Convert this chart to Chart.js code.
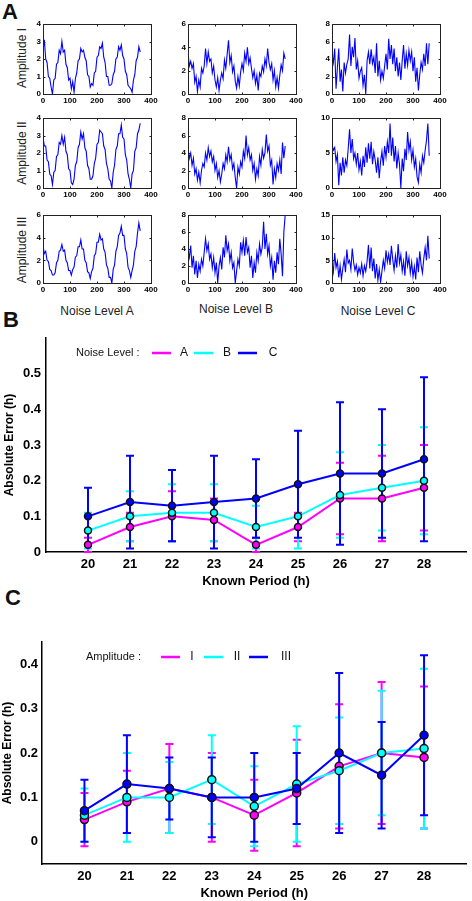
<!DOCTYPE html>
<html>
<head>
<meta charset="utf-8">
<script src="https://cdn.jsdelivr.net/npm/chart.js@4.4.1/dist/chart.umd.min.js"></script>
<style>
body { margin: 0; width: 472px; height: 901px; position: relative; background: #fff; overflow: hidden;
       font-family: "Liberation Sans", Arial, Helvetica, sans-serif; }
canvas { position: absolute; }
.letter { position: absolute; font-size: 22px; line-height: 22px; font-weight: bold; color: #111; }
.col { position: absolute; width: 120px; text-align: center; font-size: 12px; line-height: 12px; color: #222; }
.row { position: absolute; width: 100px; height: 14px; line-height: 14px; text-align: center; font-size: 12px;
       color: #222; transform: rotate(-90deg); }
</style>
</head>
<body>
<div class="letter" style="left:2px;top:1px">A</div>
<div class="letter" style="left:3px;top:309px">B</div>
<div class="letter" style="left:5px;top:587px">C</div>

<div class="row" style="left:-28px;top:51px">Amplitude I</div>
<div class="row" style="left:-28px;top:146px">Amplitude II</div>
<div class="row" style="left:-28px;top:243px">Amplitude III</div>

<div class="col" style="left:37px;top:305px">Noise Level A</div>
<div class="col" style="left:176px;top:303px">Noise Level B</div>
<div class="col" style="left:318px;top:305px">Noise Level C</div>

<script>
// ---- panel A: time series (x = time, h) ----
const timeX = [0,5,10,15,20,25,30,35,40,45,50,55,60,65,70,75,80,85,90,95,100,105,110,115,120,125,130,135,140,145,150,155,160,165,170,175,180,185,190,195,200,205,210,215,220,225,230,235,240,245,250,255,260,265,270,275,280,285,290,295,300,305,310,315,320,325,330,335,340,345,350,355,360];
const timeTicks = [0, 100, 200, 300, 400];

const sigIA = [2.5,3.1,2.0,1.8,1.0,0.9,0.4,0.0,0.8,0.9, 1.7,1.8,2.5,2.3,3.0,2.4,2.5,1.7,1.5,0.8, 0.9,0.3,0.7,0.1,0.9,1.2,1.9,2.0,2.6,2.4, 2.5,2.1,1.9,1.1,1.0,0.4,0.6,0.5,1.2,1.3, 2.1,2.2,2.7,2.6,2.9,2.1,1.8,1.0,1.0,0.5, 0.5,0.6,1.1,1.3,2.0,2.1,2.7,2.5,2.8,2.2, 2.0,1.3,1.1,0.5,0.4,0.3,0.1,0.8,1.1,1.9, 2.1,2.7,2.4];
const sigIB = [3.5,2.4,2.8,2.2,2.6,1.0,1.5,0.2,1.2,0.6, 2.2,1.8,2.4,3.9,2.6,3.6,2.8,3.0,1.8,2.4, 1.2,0.6,1.4,0.3,1.2,1.8,1.3,2.9,2.2,3.4, 4.6,2.7,3.3,1.9,2.4,1.1,0.5,1.5,0.7,1.9, 2.6,2.0,3.5,2.8,4.0,2.6,3.1,2.2,1.4,2.0, 0.9,1.6,0.3,1.8,1.5,2.4,1.9,3.0,2.4,3.9, 2.7,2.1,2.6,1.2,2.0,0.6,1.4,0.5,1.6,2.5, 2.0,3.5,3.0];
const sigIC = [4.5,3.6,5.2,0.6,3.0,5.2,1.4,2.8,0.3,3.6, 2.4,3.4,4.0,6.8,3.2,5.4,4.2,6.4,2.8,3.8, 1.8,2.6,3.0,1.0,2.2,0.0,3.8,4.8,3.4,5.1, 3.5,4.2,2.4,5.8,2.0,3.8,1.6,2.6,1.8,3.2, 4.6,2.8,6.3,4.0,5.6,3.4,5.2,2.6,4.2,2.0, 3.6,1.6,3.8,5.6,2.9,4.6,3.3,5.0,3.8,4.8, 2.6,4.2,1.4,3.0,0.4,2.2,3.6,2.8,4.6,3.2, 5.8,3.4,5.8];
const sigIIA = [2.9,2.4,2.4,1.6,1.5,0.8,0.7,0.2,0.9,1.0, 1.8,1.9,2.6,2.5,3.0,2.5,2.9,2.1,1.9,1.1, 1.0,0.3,0.2,0.5,1.3,1.5,2.3,2.5,3.2,2.8, 3.1,2.3,2.1,1.3,1.1,0.5,0.5,0.7,1.4,1.7, 2.5,2.6,3.3,3.2,3.1,2.4,2.2,1.4,1.1,0.5, 0.4,0.0,0.9,1.3,2.2,2.4,3.1,3.1,3.6,2.9, 2.8,1.9,1.6,0.8,0.5,0.0,0.8,1.0,2.1,2.3, 3.1,3.3,3.7];
const sigIIB = [4.6,3.4,4.0,2.6,3.4,1.6,2.2,0.9,1.8,0.6, 2.0,2.8,2.4,4.0,3.2,4.6,3.6,4.2,3.0,3.6, 2.0,2.8,1.2,2.0,0.7,1.6,2.8,2.2,3.8,3.0, 4.7,3.2,3.8,2.2,2.8,1.2,0.0,2.4,1.6,3.0, 2.4,4.2,3.4,6.0,3.8,4.6,3.2,3.8,2.0,2.8, 1.0,2.2,1.4,3.6,2.6,4.4,3.4,4.0,6.1,4.2, 4.8,2.6,3.2,0.4,2.2,1.2,2.8,2.0,3.2,1.6, 5.2,3.4,4.8];
const sigIIC = [6.2,5.4,5.8,3.8,4.8,0.4,3.6,1.8,4.4,2.2, 4.0,3.2,5.6,8.4,5.0,7.0,4.2,5.0,3.4,5.0, 2.6,3.8,1.8,4.6,3.0,5.8,3.6,6.4,4.2,6.6, 3.4,5.2,4.0,2.2,4.4,1.4,3.8,5.2,3.2,6.0, 4.4,6.6,5.0,9.2,4.6,7.2,3.8,6.0,2.8,5.0, 3.4,0.0,4.2,2.4,5.6,4.0,8.0,5.4,6.6,4.0, 5.4,3.0,4.2,1.6,0.8,3.4,2.2,4.6,3.6,5.4, 6.8,9.2,4.6];
const sigIIIA = [3.3,2.6,2.8,2.0,1.9,1.2,1.1,0.7,0.7,0.9, 1.8,2.0,2.8,2.9,3.4,2.8,2.9,2.0,1.8,1.1, 1.1,0.7,1.2,1.4,2.3,2.4,3.2,3.2,3.8,3.0, 3.0,2.0,1.8,1.0,0.9,0.4,1.0,1.3,2.4,2.6, 3.6,3.6,4.3,3.8,3.9,3.0,2.7,1.6,1.3,0.5, 0.5,0.0,1.2,1.6,2.8,3.2,4.2,4.4,5.0,4.2, 4.2,3.0,2.6,1.4,1.1,0.5,1.1,1.6,2.8,3.2, 4.4,5.3,4.6];
const sigIIIB = [3.8,3.0,4.4,1.8,3.2,1.0,2.6,0.6,2.2,1.4, 2.8,2.0,3.6,5.2,3.8,4.6,2.8,3.4,1.8,3.0, 1.2,2.4,0.0,2.0,3.0,1.6,4.2,3.0,5.6,3.8, 4.6,2.6,3.6,1.8,2.4,0.0,1.4,2.8,2.0,4.8, 3.6,5.0,3.2,5.4,3.6,4.2,1.8,3.2,0.6,2.4, 1.2,3.6,2.6,4.6,3.4,4.2,7.2,4.0,5.8,3.4, 4.4,2.0,3.0,0.4,2.6,1.2,3.6,2.2,5.2,3.4, 0.8,6.0,8.0];
const sigIIIC = [4.2,2.4,6.6,3.4,4.8,1.2,3.8,0.8,3.2,5.2, 2.4,7.4,4.4,5.0,3.0,7.6,4.6,2.8,4.0,1.8, 3.4,2.2,4.2,1.6,3.8,2.6,4.8,8.4,3.2,7.8, 2.6,5.4,1.0,4.2,0.6,3.0,0.2,2.6,5.0,3.2, 7.2,4.6,6.4,4.0,8.2,5.2,2.8,6.0,3.4,8.6, 4.4,6.2,2.6,4.8,1.6,7.0,3.8,5.6,2.2,4.6, 1.4,3.6,0.8,5.6,2.4,7.0,4.0,2.2,5.4,7.8, 5.0,10.4,5.4];

const ticksIA = [0,1,2,3,4], ticksIB = [0,2,4,6], ticksIC = [0,2,4,6,8];
const ticksIIA = [0,1,2,3,4], ticksIIB = [0,2,4,6,8], ticksIIC = [0,5,10];
const ticksIIIA = [0,2,4,6], ticksIIIB = [0,2,4,6,8], ticksIIIC = [0,5,10,15];

// ---- panels B and C: absolute error vs known period ----
const periods = [20,21,22,23,24,25,26,27,28];

const noiseLabels = ['A','B','C'];
const errNoiseA = [0.02,0.07,0.10,0.09,0.02,0.07,0.15,0.15,0.18];
const lowNoiseA = [0,0.03,0.03,0.03,0,0.03,0.05,0.03,0.06];
const highNoiseA = [0.04,0.11,0.17,0.15,0.04,0.11,0.25,0.27,0.30];
const errNoiseB = [0.06,0.10,0.11,0.11,0.07,0.10,0.16,0.18,0.20];
const lowNoiseB = [0.01,0.03,0.03,0.03,0.01,0.01,0.04,0.06,0.05];
const highNoiseB = [0.11,0.17,0.19,0.19,0.13,0.19,0.28,0.30,0.35];
const errNoiseC = [0.10,0.14,0.13,0.14,0.15,0.19,0.22,0.22,0.26];
const lowNoiseC = [0.02,0.01,0.03,0.01,0.04,0.04,0.02,0.04,0.03];
const highNoiseC = [0.18,0.27,0.23,0.27,0.26,0.34,0.42,0.40,0.49];
const yTicksB = [0,0.1,0.2,0.3,0.4,0.5];

const ampLabels = ['I','II','III'];
const errAmpI = [0.05,0.09,0.12,0.10,0.06,0.11,0.17,0.20,0.19];
const lowAmpI = [-0.01,0.02,0.02,0,-0.02,-0.01,0.03,0.04,0.03];
const highAmpI = [0.11,0.16,0.22,0.20,0.14,0.23,0.31,0.36,0.35];
const errAmpII = [0.06,0.10,0.10,0.14,0.08,0.13,0.16,0.20,0.21];
const lowAmpII = [0,0,0.02,0.04,-0.01,0,0.04,0.06,0.03];
const highAmpII = [0.12,0.20,0.18,0.24,0.17,0.26,0.28,0.34,0.39];
const errAmpIII = [0.07,0.13,0.12,0.10,0.10,0.12,0.20,0.15,0.24];
const lowAmpIII = [0,0.02,0.05,0.01,0,0.04,0.02,0.03,0.06];
const highAmpIII = [0.14,0.24,0.19,0.19,0.20,0.20,0.38,0.27,0.42];
const yTicksC = [0,0.1,0.2,0.3,0.4];

const colors = ['#ff00ff', '#00ffff', '#0000ff'];

Chart.defaults.font.family = '"Liberation Sans", Arial, Helvetica, sans-serif';
Chart.defaults.color = '#000';

function addCanvas(left, top, w, h) {
  const c = document.createElement('canvas');
  c.width = w; c.height = h;
  c.style.left = left + 'px'; c.style.top = top + 'px';
  document.body.appendChild(c);
  return c;
}

// box + inward ticks for the small MATLAB-like plots
const framePlugin = {
  id: 'frame',
  afterDatasetsDraw(chart) {
    const { ctx, chartArea: a, scales: { x, y } } = chart;
    const l = Math.round(a.left) + 0.5, t = Math.round(a.top) + 0.5;
    const r = Math.round(a.right) + 0.5, b = Math.round(a.bottom) + 0.5;
    ctx.save();
    ctx.strokeStyle = '#222';
    ctx.lineWidth = 1;
    ctx.strokeRect(l, t, r - l, b - t);
    ctx.beginPath();
    x.ticks.forEach(tk => {
      const px = Math.round(x.getPixelForValue(tk.value)) + 0.5;
      ctx.moveTo(px, b); ctx.lineTo(px, b - 2);
      ctx.moveTo(px, t); ctx.lineTo(px, t + 2);
    });
    y.ticks.forEach(tk => {
      const py = Math.round(y.getPixelForValue(tk.value)) + 0.5;
      ctx.moveTo(l, py); ctx.lineTo(l + 2, py);
      ctx.moveTo(r, py); ctx.lineTo(r - 2, py);
    });
    ctx.stroke();
    ctx.restore();
  }
};

function smallChart(left, top, w, h, values, yTicks) {
  const c = addCanvas(left - 26, top - 6, w + 38, h + 18);
  new Chart(c, {
    type: 'line',
    data: {
      labels: timeX,
      datasets: [{
        data: timeX.map((t, i) => ({ x: t, y: values[i] })),
        borderColor: '#0000ff', borderWidth: 1.1, pointRadius: 0, tension: 0
      }]
    },
    options: {
      responsive: false, animation: false, events: [],
      layout: { padding: { top: 6, right: 12, left: 0, bottom: 0 } },
      plugins: { legend: { display: false }, tooltip: { enabled: false } },
      scales: {
        x: {
          type: 'linear', min: 0, max: 400,
          afterBuildTicks: s => { s.ticks = timeTicks.map(v => ({ value: v })); },
          afterFit: s => { s.height = 12; s.paddingLeft = 0; s.paddingRight = 0; },
          grid: { display: false, drawTicks: false }, border: { display: false },
          ticks: { font: { size: 8, weight: 'bold' }, padding: 2, maxRotation: 0, autoSkip: false }
        },
        y: {
          min: 0, max: yTicks[yTicks.length - 1],
          afterBuildTicks: s => { s.ticks = yTicks.map(v => ({ value: v })); },
          afterFit: s => { s.width = 26; s.paddingTop = 0; s.paddingBottom = 0; },
          grid: { display: false, drawTicks: false }, border: { display: false },
          ticks: { font: { size: 8, weight: 'bold' }, padding: 2, autoSkip: false }
        }
      }
    },
    plugins: [framePlugin]
  });
}

const colLeft = [43, 188, 332];
const rowTop = [24, 118, 215];
const rowH = [70, 70, 68];
const panelA = [
  [[sigIA, ticksIA], [sigIB, ticksIB], [sigIC, ticksIC]],
  [[sigIIA, ticksIIA], [sigIIB, ticksIIB], [sigIIC, ticksIIC]],
  [[sigIIIA, ticksIIIA], [sigIIIB, ticksIIIB], [sigIIIC, ticksIIIC]]
];
panelA.forEach((row, r) => row.forEach((cell, k) => {
  smallChart(colLeft[k], rowTop[r], 108, rowH[r], cell[0], cell[1]);
}));

// error bars drawn behind lines and markers
const errorBars = {
  id: 'errorBars',
  beforeDatasetsDraw(chart) {
    const { ctx, scales: { x, y } } = chart;
    chart.data.datasets.slice().sort((a, b) => b.order - a.order).forEach(ds => {
      ctx.save();
      ctx.strokeStyle = ds.borderColor;
      ctx.lineWidth = 2;
      ds.errLow.forEach((lo, i) => {
        const px = x.getPixelForValue(ds.data[i].x);
        const pl = y.getPixelForValue(lo), ph = y.getPixelForValue(ds.errHigh[i]);
        ctx.beginPath();
        ctx.moveTo(px, pl); ctx.lineTo(px, ph);
        ctx.moveTo(px - 4, pl); ctx.lineTo(px + 4, pl);
        ctx.moveTo(px - 4, ph); ctx.lineTo(px + 4, ph);
        ctx.stroke();
      });
      ctx.restore();
    });
  }
};

const inlineLegend = {
  id: 'inlineLegend',
  afterDraw(chart, args, opts) {
    const ctx = chart.ctx;
    ctx.save();
    ctx.textBaseline = 'middle';
    ctx.fillStyle = '#111';
    ctx.font = '11px "Liberation Sans", Arial, sans-serif';
    ctx.fillText(opts.title, opts.titleX, opts.y);
    ctx.font = '12px "Liberation Sans", Arial, sans-serif';
    ctx.textAlign = 'center';
    chart.data.datasets.forEach((ds, i) => {
      ctx.strokeStyle = ds.borderColor;
      ctx.lineWidth = 2.5;
      ctx.beginPath();
      ctx.moveTo(opts.lineX[i], opts.y); ctx.lineTo(opts.lineX[i] + 19, opts.y);
      ctx.stroke();
      ctx.fillText(ds.label, opts.textX[i], opts.y);
    });
    ctx.restore();
  }
};

function errorChart(top, h, cfg) {
  const c = addCanvas(0, top, 472, h);
  new Chart(c, {
    type: 'line',
    data: {
      datasets: cfg.series.map((s, i) => ({
        label: s.label,
        data: periods.map((p, j) => ({ x: p, y: s.mean[j] })),
        errLow: s.low, errHigh: s.high,
        order: 3 - i,
        borderColor: colors[i], backgroundColor: colors[i],
        borderWidth: 2, tension: 0,
        pointRadius: cfg.radius, pointBorderWidth: 1.5,
        pointBorderColor: '#111', pointBackgroundColor: colors[i]
      }))
    },
    options: {
      responsive: false, animation: false, events: [],
      layout: { padding: cfg.padding },
      plugins: { legend: { display: false }, tooltip: { enabled: false }, inlineLegend: cfg.legend },
      scales: {
        x: {
          type: 'linear', min: 19, max: 29,
          afterBuildTicks: s => { s.ticks = periods.map(v => ({ value: v })); },
          afterFit: s => { s.height = cfg.xHeight; s.paddingLeft = 0; s.paddingRight = 0; },
          grid: { display: false, drawTicks: false },
          border: { color: '#000', width: 1.5 },
          ticks: { font: { size: 13, weight: 'bold' }, padding: cfg.xTickPad, maxRotation: 0, autoSkip: false },
          title: { display: true, text: 'Known Period (h)', font: { size: 13, weight: 'bold' },
                   padding: { top: 0, bottom: cfg.xTitlePad } }
        },
        y: {
          min: cfg.yMin, max: cfg.yMax,
          afterBuildTicks: s => { s.ticks = cfg.yTicks.map(v => ({ value: v })); },
          afterFit: s => { s.width = cfg.yWidth; s.paddingTop = 0; s.paddingBottom = 0; },
          grid: { display: false, drawTicks: false },
          border: { color: '#000', width: 1.5 },
          ticks: { font: { size: 13, weight: 'bold' }, padding: cfg.yTickPad, autoSkip: false,
                   callback: v => v === 0 ? '0' : v.toFixed(1) },
          title: { display: true, text: 'Absolute Error (h)', font: { size: 12, weight: 'bold' },
                   padding: { top: cfg.yTitlePad, bottom: 0 } }
        }
      }
    },
    plugins: [errorBars, inlineLegend]
  });
}

errorChart(330, 260, {
  series: [
    { label: noiseLabels[0], mean: errNoiseA, low: lowNoiseA, high: highNoiseA },
    { label: noiseLabels[1], mean: errNoiseB, low: lowNoiseB, high: highNoiseB },
    { label: noiseLabels[2], mean: errNoiseC, low: lowNoiseC, high: highNoiseC }
  ],
  radius: 3.5,
  padding: { top: 8, right: 6, left: 0, bottom: 0 },
  xHeight: 38, xTickPad: 5, xTitlePad: 1,
  yWidth: 46, yTickPad: 5, yTitlePad: 2,
  yMin: 0, yMax: 0.6, yTicks: yTicksB,
  legend: { title: 'Noise Level :', titleX: 76, y: 23, lineX: [152, 194, 238], textX: [184, 227, 273] }
});

errorChart(630, 271, {
  series: [
    { label: ampLabels[0], mean: errAmpI, low: lowAmpI, high: highAmpI },
    { label: ampLabels[1], mean: errAmpII, low: lowAmpII, high: highAmpII },
    { label: ampLabels[2], mean: errAmpIII, low: lowAmpIII, high: highAmpIII }
  ],
  radius: 4,
  padding: { top: 12, right: 0, left: 0, bottom: 0 },
  xHeight: 37, xTickPad: 5, xTitlePad: 0,
  yWidth: 42, yTickPad: 4, yTitlePad: 0,
  yMin: -0.05, yMax: 0.45, yTicks: yTicksC,
  legend: { title: 'Amplitude :', titleX: 86, y: 27, lineX: [161, 204, 249], textX: [192, 237, 286] }
});
</script>
</body>
</html>
